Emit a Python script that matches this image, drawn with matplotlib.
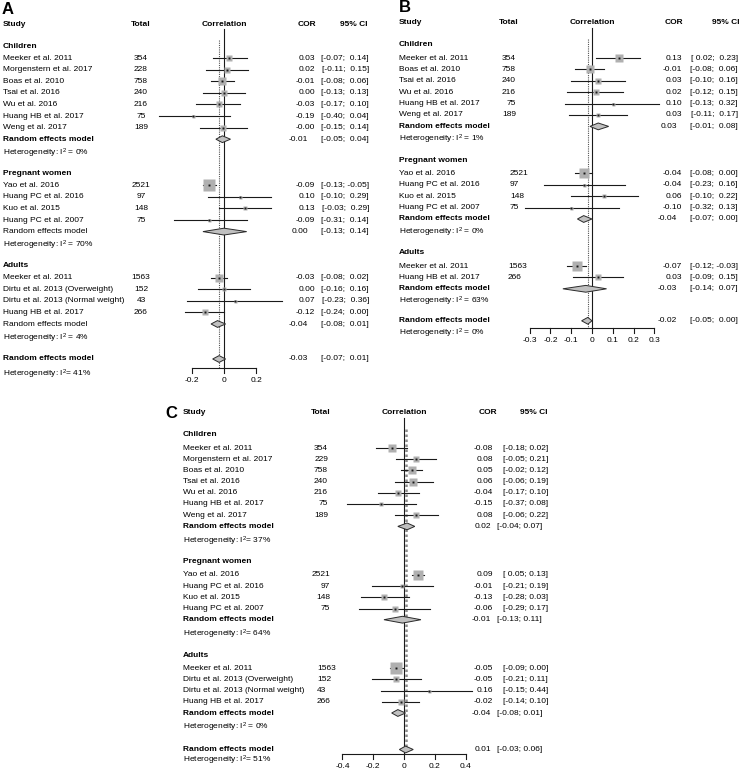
import numpy as np
import matplotlib as mpl
mpl.use('Agg')
import matplotlib.pyplot as plt
from matplotlib.patches import Polygon

plt.rcParams['font.family'] = ['Liberation Sans', 'DejaVu Sans']
plt.rcParams['mathtext.default'] = 'regular'

# ---------------- data ----------------
group_names = ["Children", "Pregnant women", "Adults"]

# panel A
studies_a = ["Meeker et al. 2011", "Morgenstern et al. 2017", "Boas et al. 2010", "Tsai et al. 2016",
             "Wu et al. 2016", "Huang HB et al. 2017", "Weng et al. 2017",
             "Yao et al. 2016", "Huang PC et al. 2016", "Kuo et al. 2015", "Huang PC et al. 2007",
             "Meeker et al. 2011", "Dirtu et al. 2013 (Overweight)", "Dirtu et al. 2013 (Normal weight)",
             "Huang HB et al. 2017"]
sizes_a = [7, 4, 4]
n_a = [354, 228, 758, 240, 216, 75, 189, 2521, 97, 148, 75, 1563, 152, 43, 266]
cor_a = [0.03, 0.02, -0.01, 0.00, -0.03, -0.19, -0.004, -0.09, 0.10, 0.13, -0.09, -0.03, 0.00, 0.07, -0.12]
lo_a = [-0.07, -0.11, -0.08, -0.13, -0.17, -0.40, -0.15, -0.13, -0.10, -0.03, -0.31, -0.08, -0.16, -0.23, -0.24]
hi_a = [0.14, 0.15, 0.06, 0.13, 0.10, 0.04, 0.14, -0.05, 0.29, 0.29, 0.14, 0.02, 0.16, 0.36, 0.00]
w_a = [8, 5.5, 11, 6.5, 5.5, 1, 5.5, 27, 1.5, 3.5, 1, 14, 3.5, 1, 5.5]
sub_cor_a = [-0.01, 0.00, -0.04]
sub_lo_a = [-0.05, -0.13, -0.08]
sub_hi_a = [0.04, 0.14, 0.01]
sub_i2_a = [0, 70, 4]
sub_bold_a = [True, False, False]
all_a = [-0.03, -0.07, 0.01]
all_i2_a = 41
ticks_a = [-0.2, 0, 0.2]

# panel B
studies_b = ["Meeker et al. 2011", "Boas et al. 2010", "Tsai et al. 2016", "Wu et al. 2016",
             "Huang HB et al. 2017", "Weng et al. 2017",
             "Yao et al. 2016", "Huang PC et al. 2016", "Kuo et al. 2015", "Huang PC et al. 2007",
             "Meeker et al. 2011", "Huang HB et al. 2017"]
sizes_b = [6, 4, 2]
n_b = [354, 758, 240, 216, 75, 189, 2521, 97, 148, 75, 1563, 266]
cor_b = [0.13, -0.01, 0.03, 0.02, 0.10, 0.03, -0.04, -0.04, 0.06, -0.10, -0.07, 0.03]
lo_b = [0.02, -0.08, -0.10, -0.12, -0.13, -0.11, -0.08, -0.23, -0.10, -0.32, -0.12, -0.09]
hi_b = [0.23, 0.06, 0.16, 0.15, 0.32, 0.17, 0.00, 0.16, 0.22, 0.13, -0.03, 0.15]
w_b = [11.5, 15, 6, 6, 1, 4, 23.5, 1, 2, 1, 23.5, 6]
sub_cor_b = [0.03, -0.04, -0.03]
sub_lo_b = [-0.01, -0.07, -0.14]
sub_hi_b = [0.08, 0.00, 0.07]
sub_i2_b = [1, 0, 63]
sub_bold_b = [True, True, True]
all_b = [-0.02, -0.05, 0.00]
all_i2_b = 0
ticks_b = [-0.3, -0.2, -0.1, 0, 0.1, 0.2, 0.3]

# panel C
studies_c = list(studies_a)
sizes_c = [7, 4, 4]
n_c = [354, 229, 758, 240, 216, 75, 189, 2521, 97, 148, 75, 1563, 152, 43, 266]
cor_c = [-0.08, 0.08, 0.05, 0.06, -0.04, -0.15, 0.08, 0.09, -0.01, -0.13, -0.06, -0.05, -0.05, 0.16, -0.02]
lo_c = [-0.18, -0.05, -0.02, -0.06, -0.17, -0.37, -0.06, 0.05, -0.21, -0.28, -0.29, -0.09, -0.21, -0.15, -0.14]
hi_c = [0.02, 0.21, 0.12, 0.19, 0.10, 0.08, 0.22, 0.13, 0.19, 0.03, 0.17, 0.00, 0.11, 0.44, 0.10]
w_c = [7.5, 5.5, 10, 7.5, 5.5, 2.5, 5.5, 15, 1.5, 5.5, 4, 18.5, 5.5, 0.5, 5.5]
sub_cor_c = [0.02, -0.01, -0.04]
sub_lo_c = [-0.04, -0.13, -0.08]
sub_hi_c = [0.07, 0.11, 0.01]
sub_i2_c = [37, 64, 0]
sub_bold_c = [True, True, True]
all_c = [0.01, -0.03, 0.06]
all_i2_c = 51
ticks_c = [-0.4, -0.2, 0, 0.2, 0.4]

# ---------------- figure ----------------
W, H = 741, 773
fig = plt.figure(figsize=(W / 100, H / 100), dpi=100)
bg = fig.add_axes([0, 0, 1, 1])
bg.set_xlim(0, W)
bg.set_ylim(H, 0)
bg.axis('off')

FS = 6
SQ = '#b0b0b0'
LN = '#1a1a1a'


def layout(sizes, top, pitch, hd, hg, gg, og, oh):
    head, study, rem, het = [], [], [], []
    y = top
    for g, k in enumerate(sizes):
        head.append(y)
        y += hd
        for i in range(k):
            study.append(y)
            y += pitch
        rem.append(y)
        y += hg
        het.append(y)
        y += gg
    oy = het[-1] + og
    return head, study, rem, het, oy, oy + oh


def het_text(i2, sp=' '):
    return r"Heterogeneity: $I^2$" + sp + "= %d%%" % i2


def diamond(ax, est, lo, hi, y, h=3.4):
    ax.add_patch(Polygon([(lo, y), (est, y - h), (hi, y), (est, y + h)], closed=True,
                         facecolor='#c0c0c0', edgecolor='#2a2a2a', lw=0.7, zorder=4))


def panel(p):
    ax = fig.add_axes([0, 0, 1, 1])
    x0, ppu = p['zero'], p['ppu']
    ax.set_xlim(-x0 / ppu, (W - x0) / ppu)
    ax.set_ylim(H, 0)
    ax.axis('off')

    head, study, rem, het, oy, ohy = layout(p['sizes'], *p['rows'])
    hy = p['header_y']
    axis_y = oy + p['axis_off']

    # letter + headers
    bg.text(p['letter_xy'][0], p['letter_xy'][1], p['letter'], fontsize=12, fontweight='bold',
            ha='left', va='center')
    bg.text(p['study_x'], hy, "Study", fontsize=FS, fontweight='bold', va='center')
    bg.text(p['total_hx'], hy, "Total", fontsize=FS, fontweight='bold', va='center', ha='center')
    bg.text(x0, hy, "Correlation", fontsize=FS, fontweight='bold', va='center', ha='center')
    bg.text(p['cor_hx'], hy, "COR", fontsize=FS, fontweight='bold', va='center', ha='right')
    bg.text(p['ci_hx'][0], hy, "95% CI", fontsize=FS, fontweight='bold', va='center', ha=p['ci_hx'][1])

    # reference lines
    ax.plot([0, 0], [hy + 5, axis_y], color=LN, lw=0.8, zorder=1)
    ax.plot([p['overall'][0]] * 2, [head[0] - 6, axis_y], color=p['dot_col'], lw=p['dot_lw'],
            ls=(0, (1, 1)), zorder=1)

    idx = 0
    for g, k in enumerate(p['sizes']):
        bg.text(p['study_x'], head[g], group_names[g], fontsize=FS, fontweight='bold', va='center')
        tx, tha = p['total_x'][g]
        for i in range(k):
            y = study[idx]
            bg.text(p['study_x'], y, p['studies'][idx], fontsize=FS, va='center')
            bg.text(tx, y, str(p['n'][idx]), fontsize=FS, va='center', ha=tha)
            c, lo, hi = p['cor'][idx], p['lo'][idx], p['hi'][idx]
            ax.plot([lo, hi], [y, y], color=LN, lw=0.8, zorder=2)
            side = max(p['k'] * np.sqrt(p['w'][idx]), 3.0) * 0.72
            ax.plot([c], [y], marker='s', ms=side, color=SQ, mec='none', zorder=3)
            ax.plot([c], [y], marker='s', ms=1.4, color='#1a1a1a', mec='none', zorder=4)
            bg.text(p['cor_x'], y, "%.2f" % c, fontsize=FS, va='center', ha='right')
            bg.text(p['ci_x'][0], y, p['ci_fmt'] % (lo, hi), fontsize=FS, va='center', ha=p['ci_x'][1])
            idx += 1
        # subgroup summary
        fw = 'bold' if p['sub_bold'][g] else 'normal'
        bg.text(p['study_x'], rem[g], "Random effects model", fontsize=FS, fontweight=fw, va='center')
        diamond(ax, p['sub_cor'][g], p['sub_lo'][g], p['sub_hi'][g], rem[g])
        bg.text(p['rem_cor_x'], rem[g], "%.2f" % p['sub_cor'][g], fontsize=FS, va='center', ha='right')
        bg.text(p['rem_ci_x'][0], rem[g], p['ci_fmt'] % (p['sub_lo'][g], p['sub_hi'][g]),
                fontsize=FS, va='center', ha=p['rem_ci_x'][1])
        bg.text(p['study_x'], het[g], het_text(p['sub_i2'][g], p['het_sp'][g]), fontsize=FS, va='center')

    # overall
    oc, olo, ohi = p['overall']
    bg.text(p['study_x'], oy, "Random effects model", fontsize=FS, fontweight='bold', va='center')
    diamond(ax, oc, olo, ohi, oy)
    bg.text(p['rem_cor_x'], oy, "%.2f" % oc, fontsize=FS, va='center', ha='right')
    bg.text(p['rem_ci_x'][0], oy, p['ci_fmt'] % (olo, ohi), fontsize=FS, va='center', ha=p['rem_ci_x'][1])
    bg.text(p['study_x'], ohy, het_text(p['all_i2'], p['het_sp'][3]), fontsize=FS, va='center')

    # x axis
    ticks = p['ticks']
    ax.plot([ticks[0], ticks[-1]], [axis_y, axis_y], color=LN, lw=0.8)
    for t in ticks:
        ax.plot([t, t], [axis_y, axis_y + 5], color=LN, lw=0.8)
        ax.text(t, axis_y + 13, "0" if t == 0 else "%g" % t, fontsize=FS, ha='center', va='center')


panels = [
    dict(letter='A', letter_xy=(2, 10), header_y=24, studies=studies_a, sizes=sizes_a, n=n_a,
         cor=cor_a, lo=lo_a, hi=hi_a, w=w_a, sub_cor=sub_cor_a, sub_lo=sub_lo_a, sub_hi=sub_hi_a,
         sub_i2=sub_i2_a, sub_bold=sub_bold_a, overall=all_a, all_i2=all_i2_a, ticks=ticks_a,
         zero=224, ppu=162, rows=(46, 11.6, 12, 14, 20, 21, 15), axis_off=9, k=2.2,
         dot_lw=0.8, dot_col='#555555',
         study_x=3, total_hx=141, total_x=[(141, 'center')] * 3, cor_hx=316, ci_hx=(368, 'right'),
         cor_x=315, ci_x=(369, 'right'), rem_cor_x=308, rem_ci_x=(369, 'right'),
         ci_fmt="[%5.2f; %5.2f]", het_sp=[' ', ' ', ' ', '']),
    dict(letter='B', letter_xy=(399, 8), header_y=23, studies=studies_b, sizes=sizes_b, n=n_b,
         cor=cor_b, lo=lo_b, hi=hi_b, w=w_b, sub_cor=sub_cor_b, sub_lo=sub_lo_b, sub_hi=sub_hi_b,
         sub_i2=sub_i2_b, sub_bold=sub_bold_b, overall=all_b, all_i2=all_i2_b, ticks=ticks_b,
         zero=592, ppu=208, rows=(45, 11.4, 13, 13, 21, 19, 13), axis_off=7, k=2.2,
         dot_lw=0.8, dot_col='#555555',
         study_x=399, total_hx=509, total_x=[(516, 'right'), (510, 'left'), (508, 'left')],
         cor_hx=683, ci_hx=(740, 'right'), cor_x=682, ci_x=(738, 'right'), rem_cor_x=677,
         rem_ci_x=(738, 'right'), ci_fmt="[%5.2f; %5.2f]", het_sp=[' ', ' ', ' ', ' ']),
    dict(letter='C', letter_xy=(165, 413), header_y=413, studies=studies_c, sizes=sizes_c, n=n_c,
         cor=cor_c, lo=lo_c, hi=hi_c, w=w_c, sub_cor=sub_cor_c, sub_lo=sub_lo_c, sub_hi=sub_hi_c,
         sub_i2=sub_i2_c, sub_bold=sub_bold_c, overall=all_c, all_i2=all_i2_c, ticks=ticks_c,
         zero=404, ppu=154, rows=(435, 11.2, 13, 14.5, 21, 22, 11), axis_off=4, k=2.6,
         dot_lw=1.8, dot_col='#8a8a8a',
         study_x=183, total_hx=321, total_x=[(328, 'right'), (330, 'right'), (317, 'left')],
         cor_hx=497, ci_hx=(520, 'left'), cor_x=493, ci_x=(503, 'left'), rem_cor_x=491,
         rem_ci_x=(497, 'left'), ci_fmt="[%5.2f; %.2f]", het_sp=['', '', ' ', '']),
]

for p in panels:
    panel(p)

plt.savefig("out.png", dpi=100)
